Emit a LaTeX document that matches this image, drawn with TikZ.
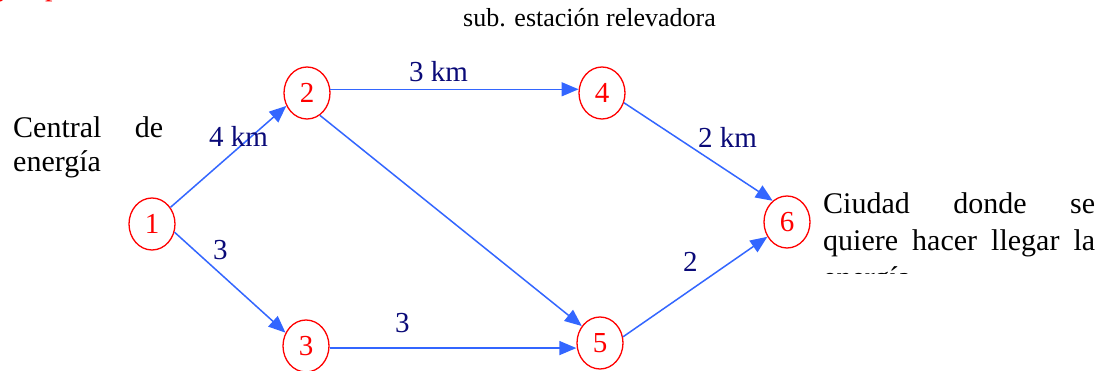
\documentclass[tikz,border=0pt]{standalone}
\usepackage{fontspec}
\setmainfont{Liberation Serif}
\usetikzlibrary{arrows.meta,shapes.geometric}
\definecolor{edgeblue}{RGB}{51,102,255}
\definecolor{labnavy}{RGB}{10,10,120}
\definecolor{nodered}{RGB}{255,0,0}
\begin{document}
\begin{tikzpicture}[x=1pt,y=1pt,
  vertex/.style={ellipse,draw=nodered,line width=1.3pt,text=nodered,minimum width=46pt,minimum height=52pt,inner sep=0pt,font=\fontsize{29}{29}\selectfont},
  conn/.style={draw=edgeblue,line width=1.5pt,-{Triangle[length=17pt,width=14pt]}},
  weight/.style={anchor=base west,inner sep=0pt,text=labnavy,font=\fontsize{29}{29}\selectfont},
  bodytext/.style={anchor=base west,inner sep=0pt,text=black,font=\fontsize{30}{30}\selectfont},
  redtext/.style={anchor=base west,inner sep=0pt,text=nodered,font=\fontsize{30}{30}\selectfont}]
\clip (0,0) rectangle (1111,371);
\fill[white] (0,0) rectangle (1111,371);
% nodes
\node[vertex] (n1) at (152,147) {1};
\node[vertex] (n2) at (307,278) {2};
\node[vertex] (n3) at (306,25) {3};
\node[vertex] (n4) at (602,278) {4};
\node[vertex] (n5) at (600,28) {5};
\node[vertex] (n6) at (787,149) {6};
% connectors
\draw[conn] (n1.42) -- (n2.212);
\draw[conn] (n1.-20) -- (n3.147);
\draw[conn] (n2.9) -- (n4.171);
\draw[conn] (n2.-60) -- (n5.137);
\draw[conn] (n3.-5) -- (n3.-5 -| n5.west);
\draw[conn] (n4.-24) -- (n6.124);
\draw[conn] (n5.15) -- (n6.217);
% weights
\node[weight] (w12) at (209,224) {4 km};
\node[weight] (w24) at (409,289) {3 km};
\node[weight] (w46) at (698,223) {2 km};
\node[weight] (w13) at (213,111) {3};
\node[weight] (w35) at (395,38) {3};
\node[weight] (w56) at (683,99) {2};
% texts
\node[anchor=base west,inner sep=0pt,font=\fontsize{26}{26}\selectfont] (sub) at (463,344) {sub. estación relevadora};
\node[bodytext] (cl1) at (13,233) {\hbox to 150pt{Central\hfill de}};
\node[bodytext] (cl2) at (13,199) {energía};
\node[bodytext] (ci1) at (823,157) {\hbox to 272pt{Ciudad\hfill donde\hfill se}};
\node[bodytext] (ci2) at (823,120) {\hbox to 272pt{quiere\hfill hacer\hfill llegar\hfill la}};
\begin{scope}
\clip (0,97) rectangle (1111,371);
\node[bodytext] (ci3) at (823,83) {energía};
\end{scope}
\node[redtext] (ry) at (-3,375.5) {y};
\node[redtext] (rp) at (45,375.5) {p};
\end{tikzpicture}
\end{document}
